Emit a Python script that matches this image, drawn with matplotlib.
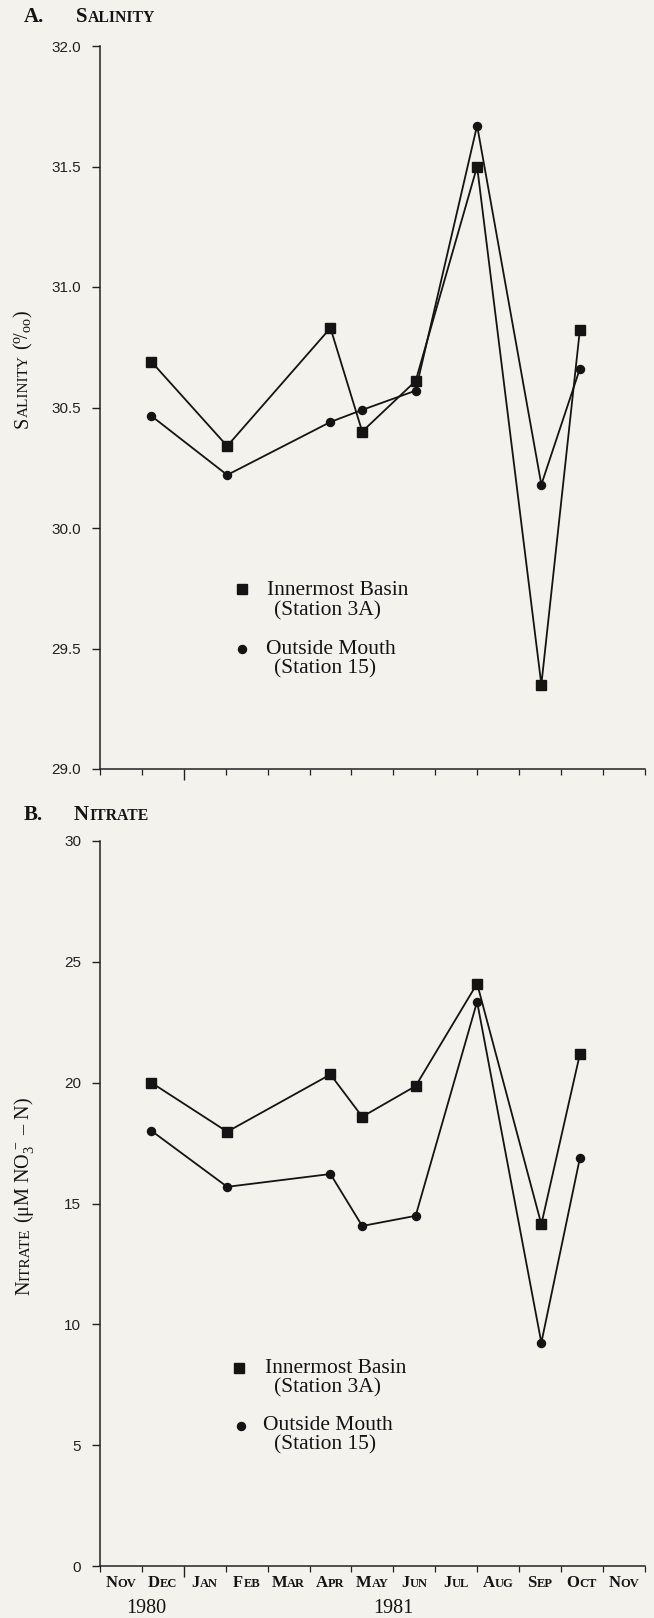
import calendar
import matplotlib
matplotlib.use("Agg")
import matplotlib.pyplot as plt
from matplotlib.ticker import FixedLocator, NullFormatter
from matplotlib.transforms import IdentityTransform
from matplotlib.lines import Line2D

plt.rcParams["mathtext.fontset"] = "custom"
plt.rcParams["mathtext.rm"] = "Liberation Serif"
plt.rcParams["mathtext.it"] = "Liberation Serif:italic"
plt.rcParams["mathtext.bf"] = "Liberation Serif:bold"

# ---------------- data ----------------
sample_dates = ["1980-12-08", "1981-02-02", "1981-04-16", "1981-05-09",
                "1981-06-17", "1981-08-01", "1981-09-17", "1981-10-15"]
salinity_inner = [30.69, 30.34, 30.83, 30.40, 30.61, 31.50, 29.35, 30.82]
salinity_outer = [30.465, 30.22, 30.44, 30.49, 30.57, 31.67, 30.18, 30.66]
nitrate_inner = [20.00, 17.97, 20.34, 18.59, 19.86, 24.10, 14.14, 21.17]
nitrate_outer = [18.01, 15.69, 16.22, 14.07, 14.49, 23.35, 9.24, 16.87]
month_labels = ["Nov", "Dec", "Jan", "Feb", "Mar", "Apr", "May", "Jun",
                "Jul", "Aug", "Sep", "Oct", "Nov"]
year_labels = ["1980", "1981"]
year_label_pos = [1.1, 7.0]
salinity_ticks = [29.0, 29.5, 30.0, 30.5, 31.0, 31.5, 32.0]
nitrate_ticks = [0, 5, 10, 15, 20, 25, 30]
legend_names = ["Innermost Basin", "Outside Mouth"]
legend_stations = ["(Station 3A)", "(Station 15)"]
panel_letters = ["A.", "B."]
panel_titles = ["Salinity", "Nitrate"]


def month_pos(s):
    y, m, d = map(int, s.split("-"))
    months = (y - 1980) * 12 + (m - 11)
    return months + (d - 1) / calendar.monthrange(y, m)[1]


xs = [month_pos(s) for s in sample_dates]

# ---------------- figure ----------------
W, H = 654, 1618
BG = "#f3f2ed"
INK = "#141414"
SERIF = "Liberation Serif"
SANS = "Liberation Sans"

fig = plt.figure(figsize=(W / 100, H / 100), dpi=100, facecolor=BG)
ax1 = fig.add_axes([100 / W, 1 - 769 / H, 544.7 / W, 723 / H])
ax2 = fig.add_axes([100 / W, 1 - 1566 / H, 544.7 / W, 725 / H])

series = [(ax1, salinity_inner, salinity_outer, salinity_ticks, (29.0, 32.0), "{:.1f}"),
          (ax2, nitrate_inner, nitrate_outer, nitrate_ticks, (0, 30), "{:d}")]

for ax, inner, outer, yt, ylim, fmt in series:
    ax.set_facecolor(BG)
    ax.plot(xs, inner, color=INK, lw=1.3, marker="s", ms=6.6, mfc=INK, mec=INK,
            clip_on=False, zorder=3)
    ax.plot(xs, outer, color=INK, lw=1.3, marker="o", ms=5.8, mfc=INK, mec=INK,
            clip_on=False, zorder=3)
    ax.set_xlim(0, 13)
    ax.set_ylim(*ylim)
    for sp in ("top", "right"):
        ax.spines[sp].set_visible(False)
    for sp in ("left", "bottom"):
        ax.spines[sp].set_linewidth(1.1)
        ax.spines[sp].set_color("#222222")
    ax.set_yticks(yt)
    ax.set_yticklabels([fmt.format(v) for v in yt], fontfamily=SANS, fontsize=11,
                       color="#222222")
    ax.tick_params(axis="y", length=6, width=1, pad=7.5, color="#222222")
    ax.xaxis.set_major_locator(FixedLocator([2]))
    ax.xaxis.set_minor_locator(FixedLocator([i for i in range(14) if i != 2]))
    ax.xaxis.set_major_formatter(NullFormatter())
    ax.tick_params(axis="x", which="major", length=8, width=1, color="#222222")
    ax.tick_params(axis="x", which="minor", length=4, width=0.9, color="#222222")

fig.canvas.draw()
renderer = fig.canvas.get_renderer()


def place(pieces, x, y, rotation=0, align="left", weight="normal"):
    """pieces: list of (text, size, gap_after_px). x, y: pixel coords from top-left;
    y is the baseline. Small caps are built from differently sized pieces."""
    texts, adv = [], []
    for s, size, gap in pieces:
        t = fig.text(0, 0, s, fontsize=size, family=SERIF, weight=weight,
                     rotation=rotation, rotation_mode="anchor",
                     ha="left", va="baseline", color=INK,
                     transform=IdentityTransform())
        texts.append(t)
        bb = t.get_window_extent(renderer)
        adv.append((bb.width if rotation == 0 else bb.height) + gap)
    total = sum(adv) - pieces[-1][2]
    start = {"left": 0, "center": -total / 2}[align]
    pos = start
    for t, a in zip(texts, adv):
        if rotation == 0:
            t.set_position((x + pos, H - y))
        else:
            t.set_position((x, H - y + pos))
        pos += a


def smallcaps(word, big, small, gap=0):
    return [(word[0], big, 0), (word[1:].upper(), small, gap)]


# panel titles
place([(panel_letters[0], 15, 0)], 24, 21.5, weight="bold")
place(smallcaps(panel_titles[0], 15, 11.3), 76, 21.5, weight="bold")
place([(panel_letters[1], 15, 0)], 24, 820, weight="bold")
place(smallcaps(panel_titles[1], 15, 11.3), 74, 820, weight="bold")

# y labels (rotated)
place(smallcaps("Salinity", 14.5, 11, 5) + [(r"($^{\mathrm{o}}\!/_{\mathrm{oo}}$)", 14.5, 0)],
      28, 369, rotation=90, align="center")
place(smallcaps("Nitrate", 14.5, 11, 5)
      + [("(\u03bcM NO$_3^{\\,-}$ \u2013 N)", 14.5, 0)],
      29, 1196, rotation=90, align="center")

# month labels
for i, m in enumerate(month_labels):
    cx = ax2.transData.transform((i + 0.5, 0))[0]
    place(smallcaps(m, 12, 9), cx, 1587, align="center", weight="bold")
for lab, p in zip(year_labels, year_label_pos):
    cx = ax2.transData.transform((p, 0))[0]
    place([(lab, 14.5, 0)], cx, 1613, align="center")

# legends
legend_layout = [
    # (axis, marker xy px, name baseline, station baseline, name x)
    (ax1, [(241.7, 589.0), (241.7, 649.0)], [595.0, 654.3], [615.0, 673.0], [266.7, 265.7]),
    (ax2, [(239.3, 1368.3), (240.7, 1426.0)], [1373.3, 1430.0], [1392.7, 1449.0], [265.0, 263.0]),
]
markers = [("s", 6.6), ("o", 5.8)]
for ax, mxy, nb, sb, nx in legend_layout:
    for k in range(2):
        mk, ms = markers[k]
        fig.add_artist(Line2D([mxy[k][0]], [H - mxy[k][1]], marker=mk, ms=ms,
                              color=INK, ls="none", transform=IdentityTransform()))
        place([(legend_names[k], 15.5, 0)], nx[k], nb[k])
        place([(legend_stations[k], 15.5, 0)], 274, sb[k])

fig.savefig("out.png", dpi=100, facecolor=BG)
